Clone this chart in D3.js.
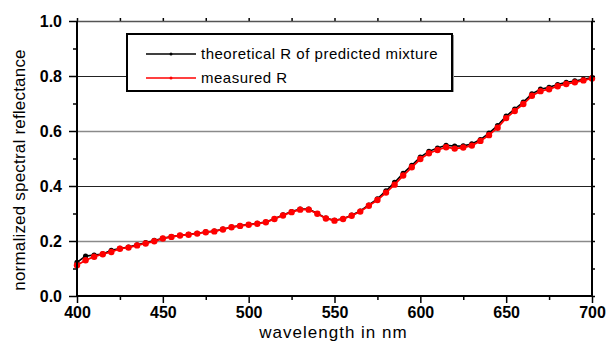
<!DOCTYPE html>
<html>
<head>
<meta charset="utf-8">
<script src="https://cdn.jsdelivr.net/npm/d3@7"></script>
<style>
  html, body { margin: 0; padding: 0; background: #fff; }
  svg { display: block; font-family: "Liberation Sans", Arial, sans-serif; }
</style>
</head>
<body>
<svg id="chart" width="607" height="342"></svg>
<script>
// ---- data ----
const wavelengths = d3.range(400, 701, 5);
const measuredR = [
  0.112, 0.130, 0.143, 0.152, 0.160, 0.172, 0.176, 0.184, 0.191, 0.199,
  0.209, 0.215, 0.220, 0.223, 0.227, 0.232, 0.235, 0.242, 0.250, 0.255,
  0.259, 0.263, 0.268, 0.280, 0.293, 0.305, 0.314, 0.314, 0.299, 0.282,
  0.274, 0.280, 0.292, 0.307, 0.328, 0.349, 0.376, 0.405, 0.438, 0.468,
  0.498, 0.519, 0.531, 0.541, 0.536, 0.540, 0.547, 0.564, 0.585, 0.612,
  0.647, 0.673, 0.698, 0.728, 0.745, 0.752, 0.763, 0.771, 0.777, 0.784,
  0.791
];
const theoreticalR = [
  0.122, 0.145, 0.149, 0.153, 0.166, 0.173, 0.178, 0.186, 0.194, 0.202,
  0.210, 0.216, 0.221, 0.224, 0.228, 0.233, 0.236, 0.243, 0.251, 0.256,
  0.260, 0.264, 0.269, 0.281, 0.295, 0.307, 0.316, 0.316, 0.300, 0.283,
  0.275, 0.281, 0.294, 0.309, 0.331, 0.353, 0.382, 0.413, 0.446, 0.475,
  0.505, 0.526, 0.538, 0.548, 0.545, 0.546, 0.553, 0.569, 0.592, 0.620,
  0.654, 0.680, 0.705, 0.735, 0.752, 0.759, 0.769, 0.777, 0.782, 0.788,
  0.794
];
const xTicks = [400, 450, 500, 550, 600, 650, 700];
const xMinorTicks = [425, 475, 525, 575, 625, 675];
const yTicks = [0.0, 0.2, 0.4, 0.6, 0.8, 1.0];
const yMinorTicks = [0.1, 0.3, 0.5, 0.7, 0.9];
const gridValues = [0.2, 0.4, 0.6, 0.8];
const legendLabels = ["theoretical R of predicted mixture", "measured R"];

// ---- layout ----
const W = 607, H = 342;
const L = 77, R = 592, T = 21, B = 296;
const svg = d3.select("#chart");
svg.append("rect").attr("width", W).attr("height", H).attr("fill", "#fff");

const x = d3.scaleLinear().domain([400, 700]).range([L, R]);
const y = d3.scaleLinear().domain([0, 1]).range([B, T]);

// gridlines
svg.append("g").selectAll("line").data(gridValues).join("line")
  .attr("x1", L).attr("x2", R)
  .attr("y1", d => Math.round(y(d)) + 0.5).attr("y2", d => Math.round(y(d)) + 0.5)
  .attr("stroke", (d, i) => i % 2 === 0 ? "#8a8a8a" : "#222")
  .attr("stroke-width", (d, i) => i % 2 === 0 ? 1.6 : 1);

// series
const series = [
  { name: legendLabels[0], values: theoreticalR, color: "#000", r: 2.6, w: 1.6 },
  { name: legendLabels[1], values: measuredR, color: "#ff0000", r: 3.2, w: 1.8 }
];
const line = d3.line().x((d, i) => x(wavelengths[i])).y(d => y(d));
series.forEach(s => {
  const g = svg.append("g");
  g.append("path").attr("d", line(s.values)).attr("fill", "none")
    .attr("stroke", s.color).attr("stroke-width", s.w);
  g.selectAll("circle").data(s.values).join("circle")
    .attr("cx", (d, i) => x(wavelengths[i])).attr("cy", d => y(d))
    .attr("r", s.r).attr("fill", s.color);
});

// axes
const axisStyle = g => {
  g.select(".domain").remove();
  g.selectAll(".tick line").attr("stroke", "#000").attr("stroke-width", 1.5);
};
// bottom major
svg.append("g").attr("transform", `translate(0,${B})`)
  .call(d3.axisBottom(x).tickValues(xTicks).tickSize(7).tickPadding(4).tickFormat(d3.format("d")))
  .call(axisStyle)
  .call(g => g.selectAll("text").attr("font-size", 16).attr("font-weight", "bold")
    .attr("fill", "#000").attr("font-family", "Liberation Sans, Arial, sans-serif"));
svg.append("g").attr("transform", `translate(0,${B})`)
  .call(d3.axisBottom(x).tickValues(xMinorTicks).tickSize(4).tickFormat(""))
  .call(axisStyle);
// top ticks
svg.append("g").attr("transform", `translate(0,${T})`)
  .call(d3.axisTop(x).tickValues(xTicks.concat(xMinorTicks)).tickSize(3).tickFormat(""))
  .call(axisStyle);
// left major
svg.append("g").attr("transform", `translate(${L},0)`)
  .call(d3.axisLeft(y).tickValues(yTicks).tickSize(8).tickPadding(7).tickFormat(d3.format(".1f")))
  .call(axisStyle)
  .call(g => g.selectAll("text").attr("font-size", 16).attr("font-weight", "bold")
    .attr("fill", "#000").attr("font-family", "Liberation Sans, Arial, sans-serif"));
svg.append("g").attr("transform", `translate(${L},0)`)
  .call(d3.axisLeft(y).tickValues(yMinorTicks).tickSize(4).tickFormat(""))
  .call(axisStyle);
// right ticks
svg.append("g").attr("transform", `translate(${R},0)`)
  .call(d3.axisRight(y).tickValues(yTicks.concat(yMinorTicks)).tickSize(3).tickFormat(""))
  .call(axisStyle);

// frame
svg.append("line").attr("x1", L).attr("x2", R).attr("y1", T + 0.5).attr("y2", T + 0.5)
  .attr("stroke", "#555").attr("stroke-width", 1.5);
svg.append("line").attr("x1", R).attr("x2", R).attr("y1", T).attr("y2", B)
  .attr("stroke", "#000").attr("stroke-width", 2);
svg.append("line").attr("x1", L).attr("x2", L).attr("y1", T).attr("y2", B + 1)
  .attr("stroke", "#000").attr("stroke-width", 2);
svg.append("line").attr("x1", L - 1).attr("x2", R + 1).attr("y1", B).attr("y2", B)
  .attr("stroke", "#000").attr("stroke-width", 2);

// axis titles
svg.append("text").attr("x", (L + R) / 2 - 1).attr("y", 338)
  .attr("text-anchor", "middle").attr("font-size", 17).attr("letter-spacing", 1)
  .attr("fill", "#000")
  .text("wavelength in nm");
svg.append("text").attr("transform", `translate(25,170) rotate(-90)`)
  .attr("text-anchor", "middle").attr("font-size", 17).attr("letter-spacing", 0.2)
  .attr("fill", "#000")
  .text("normalized spectral reflectance");

// legend
const lg = svg.append("g");
lg.append("rect").attr("x", 128).attr("y", 35).attr("width", 326).attr("height", 57)
  .attr("fill", "#999");
lg.append("rect").attr("x", 127).attr("y", 34).attr("width", 325).attr("height", 57)
  .attr("fill", "#fff").attr("stroke", "#000").attr("stroke-width", 2);
series.forEach((s, i) => {
  const yy = 54 + i * 24;
  lg.append("line").attr("x1", 146).attr("x2", 196).attr("y1", yy).attr("y2", yy)
    .attr("stroke", s.color).attr("stroke-width", 1.5);
  lg.append("circle").attr("cx", 171).attr("cy", yy).attr("r", 1.5).attr("fill", s.color);
  lg.append("text").attr("x", 201).attr("y", yy + 5).attr("font-size", 15)
    .attr("letter-spacing", 0.5).attr("fill", "#000").text(s.name);
});
</script>
</body>
</html>
